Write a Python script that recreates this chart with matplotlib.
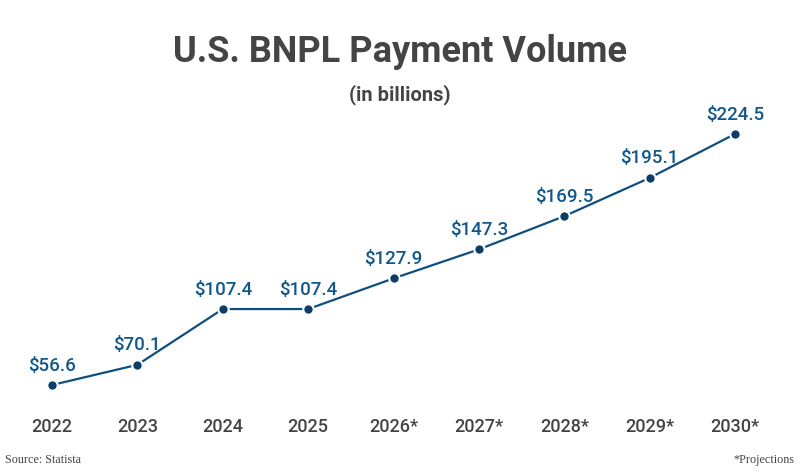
import matplotlib
matplotlib.use("Agg")
import matplotlib.pyplot as plt
import matplotlib.transforms as mtransforms

years = ["2022", "2023", "2024", "2025", "2026*", "2027*", "2028*", "2029*", "2030*"]
values = [56.6, 70.1, 107.4, 107.4, 127.9, 147.3, 169.5, 195.1, 224.5]
labels = ["$56.6", "$70.1", "$107.4", "$107.4", "$127.9", "$147.3", "$169.5", "$195.1", "$224.5"]

LINE = "#0e4f80"
MARK = "#0b3d68"
TXT = "#444444"

fig = plt.figure(figsize=(8, 4.73), dpi=100)
ax = fig.add_axes([0, 0, 1, 1])
ax.set_xlim(-0.609, 8.761)
ax.set_ylim(-2.26, 314.1)
ax.axis("off")

x = list(range(len(values)))
ax.plot(x, values, color=LINE, lw=1.6, zorder=2)
ax.plot(x, values, "o", color=MARK, ms=7.5, mec="white", mew=1.5, zorder=3)

for xi, v, lab in zip(x, values, labels):
    ax.annotate(lab, (xi, v), xytext=(0, 14), textcoords="offset points",
                ha="center", va="center", fontsize=13.5, family="Roboto",
                fontweight="medium", color="#11578a")

trans = mtransforms.blended_transform_factory(ax.transData, fig.transFigure)
for xi, yr in zip(x, years):
    ax.text(xi, 1 - 427 / 473, yr, transform=trans, ha="center", va="center",
            fontsize=13, family="Roboto", fontweight="medium", color=TXT)

fig.text(0.5, 1 - 52 / 473, "U.S. BNPL Payment Volume", ha="center", va="center",
         fontsize=26, family="Roboto", fontweight="bold", color=TXT)
fig.text(0.5, 1 - 95 / 473, "(in billions)", ha="center", va="center",
         fontsize=14.5, family="Roboto", fontweight="bold", color=TXT)
fig.text(5 / 800, 1 - 460 / 473, "Source: Statista", ha="left", va="center",
         fontsize=8.7, family="Liberation Serif", color=TXT)
fig.text(795 / 800, 1 - 460 / 473, "*Projections", ha="right", va="center",
         fontsize=8.7, family="Liberation Serif", color=TXT)

fig.savefig("out.png", dpi=100, facecolor="white")
